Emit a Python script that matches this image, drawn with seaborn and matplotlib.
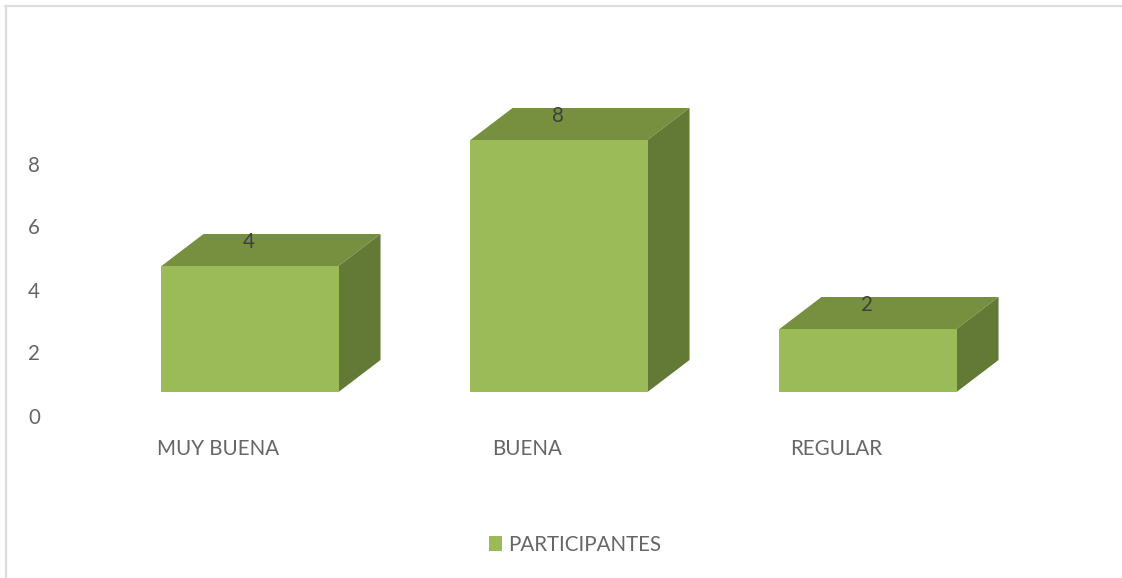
import matplotlib
matplotlib.use("Agg")
import matplotlib.pyplot as plt
import matplotlib.transforms as mtrans
from matplotlib.lines import Line2D
from matplotlib.patches import Polygon
import pandas as pd
import seaborn as sns

categories = ["MUY BUENA", "BUENA", "REGULAR"]
participantes = [4, 8, 2]
y_ticks = [0, 2, 4, 6, 8]
series_name = "PARTICIPANTES"

W, H = 1122, 578
FRONT = "#9BBB59"
TOP = "#769040"
SIDE = "#637A36"
TEXT = "#666666"
FS = 14.8

sns.set_theme(style="white")
plt.rcParams["font.family"] = ["Lato", "DejaVu Sans"]

fig = plt.figure(figsize=(W / 100, H / 100), dpi=100)
# axes box in pixels: x 96..1023, y 77..392
ax = fig.add_axes([95.5 / W, 1 - 392 / H, 927 / W, 315 / H])

df = pd.DataFrame({"categoria": categories, "valor": participantes})
sns.barplot(data=df, x="categoria", y="valor", color=FRONT, saturation=1,
            width=0.573, label=series_name, ax=ax, zorder=3, linewidth=0)
ax.set_xlim(-0.5, 2.5)
ax.set_ylim(0, 10)
ax.set_xlabel("")
ax.set_ylabel("")
ax.set_yticks(y_ticks)
sns.despine(ax=ax, left=True, bottom=True)
ax.tick_params(axis="both", length=0, labelsize=FS, labelcolor=TEXT)
ax.tick_params(axis="y", pad=40)

# tick labels sit away from the bars like on the excel 3d chart
for lab in ax.get_xticklabels():
    lab.set_transform(lab.get_transform() + mtrans.ScaledTranslation(-32 / 100, -42 / 100, fig.dpi_scale_trans))
for lab in ax.get_yticklabels():
    lab.set_transform(lab.get_transform() + mtrans.ScaledTranslation(0, -23.5 / 100, fig.dpi_scale_trans))

# fake 3d depth, offset taken from the bar corners
dx = 42 / 309
dy = 32 / 31.5
for bar, val in zip(ax.containers[0], participantes):
    x0 = bar.get_x()
    x1 = x0 + bar.get_width()
    h = bar.get_height()
    ax.add_patch(Polygon([(x0, h), (x1, h), (x1 + dx, h + dy), (x0 + dx, h + dy)],
                         facecolor=TOP, edgecolor="none", zorder=2))
    ax.add_patch(Polygon([(x1, 0), (x1 + dx, dy), (x1 + dx, h + dy), (x1, h)],
                         facecolor=SIDE, edgecolor="none", zorder=2))
    ax.annotate(str(val), (x0 + bar.get_width() / 2, h), xytext=(-1, 17.5),
                textcoords="offset points", ha="center", va="center",
                fontsize=FS, color="#404040", zorder=4)

leg = ax.legend(loc="center", bbox_to_anchor=(575 / W, 1 - 545 / H),
                bbox_transform=fig.transFigure, frameon=False, fontsize=FS,
                handlelength=0.6, handleheight=0.75, handletextpad=0.3, labelcolor=TEXT)

# grey border of the pasted screenshot, top and left only
fig.add_artist(Line2D([6 / W, 6 / W], [0, 1 - 6 / H], color="#DDDDDD", lw=1.6))
fig.add_artist(Line2D([5 / W, 1], [1 - 6 / H, 1 - 6 / H], color="#DDDDDD", lw=1.6))

fig.savefig("out.png", dpi=100)
